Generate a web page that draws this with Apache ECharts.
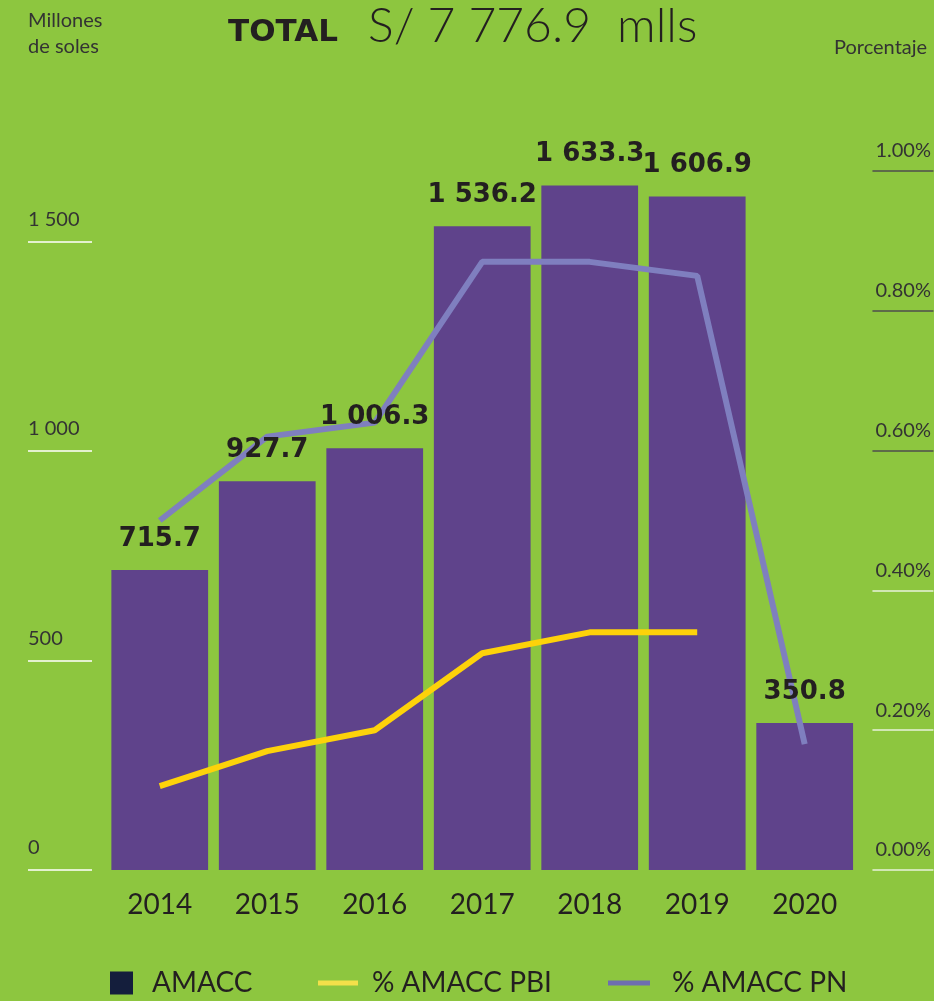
<!DOCTYPE html>
<html>
<head>
<meta charset="utf-8">
<script src="https://cdn.jsdelivr.net/npm/echarts@6/dist/echarts.min.js"></script>
<style>
    html, body { margin: 0; padding: 0; background: #8dc63f; }
    #chart { width: 934px; height: 1001px; }
</style>
</head>
<body>
<div id="chart"></div>
<script>
const years = ['2014', '2015', '2016', '2017', '2018', '2019', '2020']
const amacc = [715.7, 927.7, 1006.3, 1536.2, 1633.3, 1606.9, 350.8]
const pctPbi = [0.12, 0.17, 0.20, 0.31, 0.34, 0.34, null]
const pctPn = [0.50, 0.62, 0.64, 0.87, 0.87, 0.85, 0.18]
const leftTicks = [0, 500, 1000, 1500]
const rightTicks = [0, 0.2, 0.4, 0.6, 0.8, 1.0]
const rightDarkTicks = [0.6, 0.8, 1.0]
const rightLightTicks = [0, 0.2, 0.4]

const font = 'Lato, "Open Sans", sans-serif'
const heavy = '"DejaVu Sans", sans-serif'
const ink = '#231f20'

// 1 633.3 style numbers
const spaced = (v, digits) => {
    const parts = v.toFixed(digits).split('.')
    parts[0] = parts[0].replace(/\B(?=(\d{3})+(?!\d))/g, ' ')
    return parts.join('.')
}

const chart = echarts.init(document.getElementById('chart'))

const rightAxis = (ticks, color, showLabels) => ({
    type: 'value',
    position: 'right',
    min: 0,
    max: 1,
    offset: 14,
    splitLine: { show: false },
    axisLine: { show: false },
    axisTick: {
        show: true,
        length: 61,
        customValues: ticks,
        lineStyle: { color: color, width: 1.5 },
    },
    axisLabel: {
        show: showLabels,
        customValues: rightTicks,
        align: 'left',
        verticalAlign: 'bottom',
        margin: 3,
        padding: [0, 0, 10, 0],
        fontFamily: font,
        fontSize: 20,
        color: '#333',
        formatter: (v) => v.toFixed(2) + '%',
    },
})

const legendText = (pad) => ({ fontFamily: font, fontSize: 28, color: ink, padding: [0, 0, 0, pad] })

const option = {
    backgroundColor: '#8dc63f',
    animation: false,
    title: [
        {
            text: '{b|TOTAL}{n|S/ 7 776.9  mlls}',
            left: 228,
            top: 3,
            padding: 0,
            textStyle: {
                rich: {
                    b: { fontFamily: heavy, fontSize: 31, fontWeight: 'bold', color: ink, verticalAlign: 'bottom', padding: [0, 0, 3, 0] },
                    n: { fontFamily: font, fontSize: 48, fontWeight: 300, color: ink, verticalAlign: 'bottom', padding: [0, 0, 0, 30] },
                },
            },
        },
        {
            text: 'Millones\nde soles',
            left: 28,
            top: 8,
            padding: 0,
            textStyle: { fontFamily: font, fontSize: 20, fontWeight: 'normal', color: '#333', lineHeight: 26 },
        },
        {
            text: 'Porcentaje',
            left: 834,
            top: 38,
            padding: 0,
            textStyle: { fontFamily: font, fontSize: 20, fontWeight: 'normal', color: '#333' },
        },
    ],
    legend: [
        {
            left: 110,
            top: 969,
            padding: 0,
            data: [{ name: 'AMACC', icon: 'rect', itemStyle: { color: '#141e3c' } }],
            itemWidth: 23,
            itemHeight: 23,
            textStyle: legendText(14),
        },
        {
            left: 318,
            top: 969,
            padding: 0,
            data: [{ name: '% AMACC PBI', icon: 'rect' }],
            itemWidth: 40,
            itemHeight: 5,
            textStyle: legendText(9),
        },
        {
            left: 608,
            top: 969,
            padding: 0,
            data: [{ name: '% AMACC PN', icon: 'rect' }],
            itemWidth: 42,
            itemHeight: 5,
            textStyle: legendText(17),
        },
    ],
    grid: { left: 106, right: 75, top: 171, bottom: 131 },
    xAxis: {
        type: 'category',
        data: years,
        axisLine: { show: false },
        axisTick: { show: false },
        axisLabel: { margin: 21, fontFamily: font, fontSize: 28, color: ink },
    },
    yAxis: [
        {
            type: 'value',
            min: 0,
            max: 1668,
            offset: 14,
            splitLine: { show: false },
            axisLine: { show: false },
            axisTick: {
                show: true,
                length: 64,
                customValues: leftTicks,
                lineStyle: { color: '#ffffff', width: 1.5 },
            },
            axisLabel: {
                customValues: leftTicks,
                align: 'left',
                verticalAlign: 'bottom',
                margin: 64,
                padding: [0, 0, 12, 0],
                fontFamily: font,
                fontSize: 20,
                color: '#333',
                formatter: (v) => spaced(v, 0),
            },
        },
        rightAxis(rightDarkTicks, '#4d4d4d', true),
        rightAxis(rightLightTicks, '#e8f2dc', false),
    ],
    series: [
        {
            name: 'AMACC',
            type: 'bar',
            data: amacc,
            barCategoryGap: '10%',
            itemStyle: { color: '#5f438b' },
        },
        {
            name: '% AMACC PBI',
            type: 'line',
            yAxisIndex: 1,
            data: pctPbi,
            symbol: 'none',
            lineStyle: { color: '#fdd20a', width: 6 },
            itemStyle: { color: '#f2e04a' },
        },
        {
            name: '% AMACC PN',
            type: 'line',
            yAxisIndex: 1,
            data: pctPn,
            symbol: 'none',
            lineStyle: { color: '#7f7fbf', width: 6 },
            itemStyle: { color: '#6e6eb0' },
        },
        {
            // transparent twin of the bars so the value labels sit above the lines
            name: 'labels',
            type: 'bar',
            data: amacc,
            barGap: '-100%',
            z: 5,
            silent: true,
            itemStyle: { color: 'transparent' },
            label: {
                show: true,
                position: 'top',
                distance: 18,
                fontFamily: heavy,
                fontSize: 26,
                fontWeight: 'bold',
                color: ink,
                formatter: (p) => spaced(p.value, 1),
            },
        },
    ],
}

chart.setOption(option)
</script>
</body>
</html>
